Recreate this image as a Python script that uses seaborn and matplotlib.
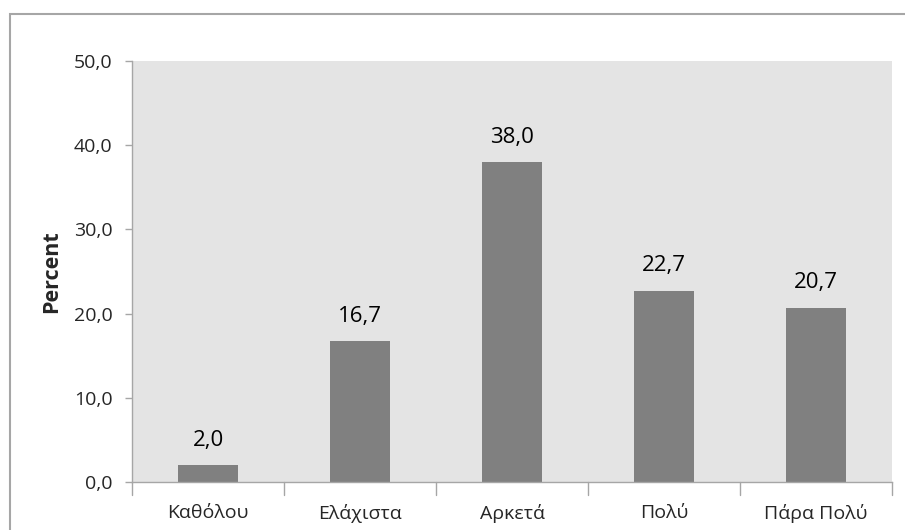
import matplotlib
matplotlib.use("Agg")
import matplotlib.pyplot as plt
import seaborn as sns
import pandas as pd
from matplotlib.patches import Rectangle

categories = ["Καθόλου", "Ελάχιστα", "Αρκετά", "Πολύ", "Πάρα Πολύ"]
percent = [2.0, 16.7, 38.0, 22.7, 20.7]
yticks = [0, 10, 20, 30, 40, 50]

df = pd.DataFrame({"category": categories, "percent": percent})

sns.set_theme(style="white")
plt.rcParams["font.family"] = ["Open Sans", "DejaVu Sans"]

fig = plt.figure(figsize=(9.05, 5.30), dpi=100)
ax = fig.add_axes([0.1459, 0.0906, 0.8397, 0.7943])

sns.barplot(data=df, x="category", y="percent", color="#808080",
            saturation=1, width=0.4, linewidth=0, edgecolor="none", ax=ax)

ax.set_facecolor("#E4E4E4")
ax.set_ylim(0, 50)
ax.set_xlim(-0.5, len(categories) - 0.5)
ax.set_yticks(yticks)
ax.set_yticklabels([f"{v:.1f}".replace(".", ",") for v in yticks], fontsize=14)
ax.set_xticks(range(len(categories)))
ax.set_xticklabels(categories, fontsize=14)
ax.set_xlabel("")
ax.set_ylabel("Percent", fontsize=15.5, fontweight="bold")
ax.yaxis.set_label_coords(-0.092, 0.5)

for side in ["top", "right"]:
    ax.spines[side].set_visible(False)
for side in ["left", "bottom"]:
    ax.spines[side].set_color("#A6A6A6")
    ax.spines[side].set_linewidth(1.0)

# y ticks outside, x ticks between categories
ax.tick_params(axis="y", length=5, color="#A6A6A6", width=1, pad=9, left=True)
ax.tick_params(axis="x", length=0, pad=16)
for b in range(len(categories) + 1):
    ax.plot([b - 0.5, b - 0.5], [0, -1.5], color="#A6A6A6", lw=1,
            clip_on=False, transform=ax.transData)

for i, v in enumerate(percent):
    ax.annotate(f"{v:.1f}".replace(".", ","), (i, v), xytext=(0, 14),
                textcoords="offset points", ha="center", va="baseline",
                fontsize=16, color="#000000")

# outer chart frame
fig.patches.append(Rectangle((10 / 905, -0.1), 1.2, 1 - 14 / 530 + 0.1,
                             transform=fig.transFigure, fill=False,
                             edgecolor="#A6A6A6", linewidth=1.5))

fig.savefig("out.png", dpi=100, facecolor="white")
